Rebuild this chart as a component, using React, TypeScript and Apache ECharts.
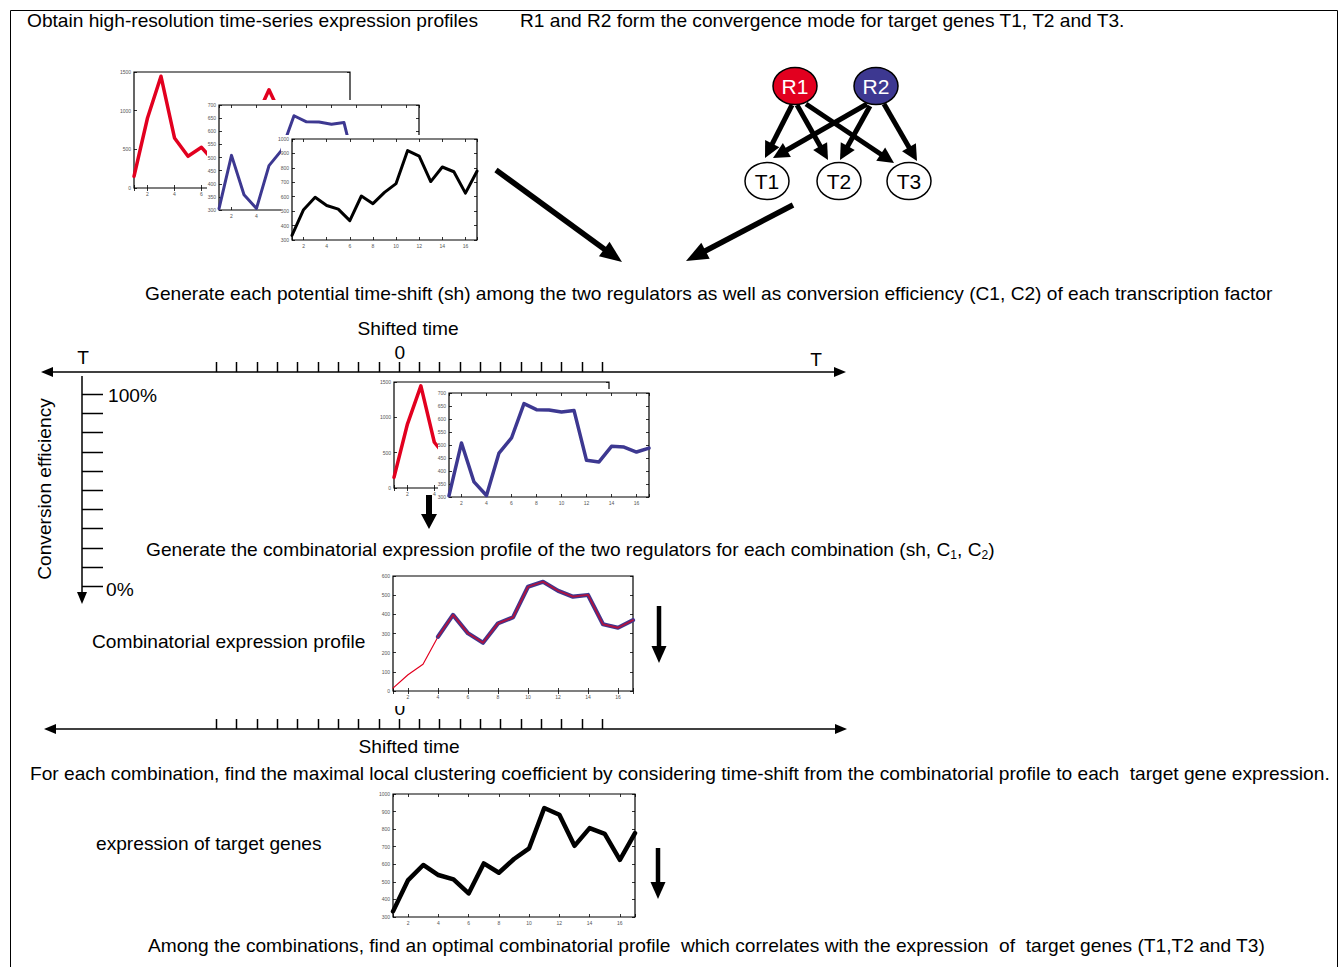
import React, { useEffect, useRef } from "react";
import * as echarts from "echarts";

// ---------- data ----------
const TIME_POINTS = [1, 2, 3, 4, 5, 6, 7, 8, 9, 10, 11, 12, 13, 14, 15, 16, 17];
const R1_EXPRESSION = [150, 905, 1445, 647, 410, 526, 330, 600, 720, 890, 1270, 900, 760, 660, 600, 620, 580];
const R2_EXPRESSION = [305, 508, 358, 306, 469, 527, 659, 636, 635, 627, 633, 441, 435, 495, 492, 473, 488];
const TARGET_EXPRESSION = [332, 510, 596, 539, 514, 434, 605, 552, 630, 691, 920, 882, 705, 806, 773, 625, 777];
const COMBINED_EXPRESSION = [15, 85, 140, 283, 397, 301, 252, 353, 384, 544, 570, 523, 492, 501, 348, 330, 370];
const COMBINED_FROM = 4; // time point from which both regulators contribute
const SHIFT_TICKS = [-9, -8, -7, -6, -5, -4, -3, -2, -1, 0, 1, 2, 3, 4, 5, 6, 7, 8, 9, 10];
const EFFICIENCY_TICKS = [100, 90, 80, 70, 60, 50, 40, 30, 20, 10, 0];

const RED = "#e2001f";
const BLUE = "#3d3891";
const FONT = "'Liberation Sans', Arial, Helvetica, sans-serif";
const FS = 19.15;

type Panel = {
  left: number; top: number; width: number; height: number;
  min: number; max: number; interval: number; z: number; lastXLabel: number;
};

const PANELS: Panel[] = [
  { left: 134, top: 72, width: 216, height: 116, min: 0, max: 1500, interval: 500, z: 1, lastXLabel: 6 },    // 0 R1 top
  { left: 219, top: 105, width: 200, height: 105, min: 300, max: 700, interval: 50, z: 4, lastXLabel: 4 },   // 1 R2 top
  { left: 292, top: 139, width: 185, height: 101, min: 300, max: 1000, interval: 100, z: 7, lastXLabel: 16 }, // 2 target top
  { left: 394, top: 382, width: 215, height: 106, min: 0, max: 1500, interval: 500, z: 1, lastXLabel: 4 },   // 3 R1 mid
  { left: 449, top: 393, width: 200, height: 104, min: 300, max: 700, interval: 50, z: 4, lastXLabel: 16 },  // 4 R2 mid
  { left: 393, top: 576, width: 240, height: 115, min: 0, max: 600, interval: 100, z: 1, lastXLabel: 16 },   // 5 combined
  { left: 393, top: 794, width: 242, height: 123, min: 300, max: 1000, interval: 100, z: 1, lastXLabel: 16 }, // 6 target bottom
];

function pts(vals: (number | null)[]) {
  return TIME_POINTS.map((t, i) => [t, vals[i]]);
}

function arrow(x1: number, y1: number, x2: number, y2: number, w: number, hl: number, hw: number, z = 20): any[] {
  const dx = x2 - x1, dy = y2 - y1;
  const L = Math.hypot(dx, dy);
  const ux = dx / L, uy = dy / L;
  const bx = x2 - ux * hl, by = y2 - uy * hl;
  const px = -uy, py = ux;
  return [
    { type: "line", z, silent: true, shape: { x1, y1, x2: bx + ux * 2, y2: by + uy * 2 }, style: { stroke: "#000", lineWidth: w } },
    {
      type: "polygon", z, silent: true,
      shape: { points: [[x2, y2], [bx + (px * hw) / 2, by + (py * hw) / 2], [bx - (px * hw) / 2, by - (py * hw) / 2]] },
      style: { fill: "#000" },
    },
  ];
}

function txt(text: string, x: number, y: number, size = FS, align = "left", extra: any = {}, fill = "#000"): any {
  return {
    type: "text", x, y, z: 20, silent: true, ...extra,
    style: {
      text, fontSize: size, fontFamily: FONT, fill,
      align, verticalAlign: "middle", textAlign: align, textVerticalAlign: "middle",
    },
  };
}

export default function App() {
  const ref = useRef<HTMLDivElement>(null);

  useEffect(() => {
    if (!ref.current) return;
    const chart = echarts.init(ref.current, undefined, { renderer: "svg" });

    const grids: any[] = [];
    const xAxes: any[] = [];
    const yAxes: any[] = [];
    PANELS.forEach((p, gi) => {
      grids.push({
        left: p.left, top: p.top, width: p.width, height: p.height, z: p.z,
        show: true, backgroundColor: "#fff", borderColor: "#000", borderWidth: 1.2,
        containLabel: false,
      });
      const tick = { show: true, inside: true, length: 3, lineStyle: { color: "#000", width: 0.8 } };
      const label = { fontSize: 5, color: "#555", margin: 3, fontFamily: FONT };
      const xBase = {
        type: "value", gridIndex: gi, min: 1, max: 17, splitNumber: 8, z: p.z,
        axisLine: { show: false }, splitLine: { show: false }, axisTick: tick,
      };
      xAxes.push({
        ...xBase, position: "bottom",
        axisLabel: { ...label, formatter: (v: number) => (v % 2 === 0 && v <= p.lastXLabel ? String(v) : "") },
      });
      xAxes.push({ ...xBase, position: "top", axisLabel: { show: false } });
      const yBase = {
        type: "value", gridIndex: gi, min: p.min, max: p.max, interval: p.interval, z: p.z,
        axisLine: { show: false }, splitLine: { show: false }, axisTick: tick,
      };
      yAxes.push({ ...yBase, position: "left", axisLabel: { ...label, formatter: (v: number) => String(v) } });
      yAxes.push({ ...yBase, position: "right", axisLabel: { show: false } });
    });

    const line = (gi: number, data: any[], color: string, width: number, zAdd = 1) => ({
      type: "line", xAxisIndex: gi * 2, yAxisIndex: gi * 2, data, showSymbol: false, symbol: "none",
      silent: true, z: PANELS[gi].z + zAdd, connectNulls: false,
      lineStyle: { color, width, cap: "round", join: "round" },
    });

    const comboBefore = COMBINED_EXPRESSION.map((v, i) => (TIME_POINTS[i] <= COMBINED_FROM ? v : null));
    const comboAfter = COMBINED_EXPRESSION.map((v, i) => (TIME_POINTS[i] >= COMBINED_FROM ? v : null));

    const series = [
      line(0, pts(R1_EXPRESSION), RED, 3.5),
      line(1, pts(R2_EXPRESSION), BLUE, 3),
      line(2, pts(TARGET_EXPRESSION), "#000", 3),
      line(3, pts(R1_EXPRESSION), RED, 3.5),
      line(4, pts(R2_EXPRESSION), BLUE, 3.5),
      line(5, pts(comboBefore), RED, 1.2),
      line(5, pts(comboAfter), BLUE, 4.2),
      line(5, pts(comboAfter), "#b0123f", 1.8, 2),
      line(6, pts(TARGET_EXPRESSION), "#000", 4.5),
    ];

    const g: any[] = [];
    // outer frame
    g.push({ type: "rect", z: 0, silent: true, shape: { x: 10.5, y: 10.5, width: 1327, height: 980 }, style: { fill: "none", stroke: "#000", lineWidth: 1 } });
    // white backdrops for overlapping panels (cover label margins)
    g.push({ type: "rect", z: 3, silent: true, shape: { x: 207, y: 100, width: 215, height: 119 }, style: { fill: "#fff" } });
    g.push({ type: "rect", z: 6, silent: true, shape: { x: 281, y: 135, width: 199, height: 113 }, style: { fill: "#fff" } });
    g.push({ type: "rect", z: 3, silent: true, shape: { x: 438, y: 389, width: 213, height: 114 }, style: { fill: "#fff" } });

    // titles and captions
    g.push(txt("Obtain high-resolution time-series expression profiles", 27, 20));
    g.push(txt("R1 and R2 form the convergence mode for target genes T1, T2 and T3.", 520, 20));
    g.push(txt("Generate each potential time-shift (sh) among the two regulators as well as conversion efficiency (C1, C2) of each transcription factor", 145, 293));
    g.push(txt("Shifted time", 408, 328, FS, "center"));
    g.push({
      type: "text", x: 146, y: 549, z: 20, silent: true,
      style: {
        text: "{m|Generate the combinatorial expression profile of the two regulators for each combination (sh, C}{s|1}{m|, C}{s|2}{m|)}",
        fill: "#000", align: "left", verticalAlign: "middle", textAlign: "left", textVerticalAlign: "middle",
        rich: {
          m: { fontSize: FS, fontFamily: FONT, fill: "#000", color: "#000" },
          s: { fontSize: 12, fontFamily: FONT, fill: "#000", color: "#000", padding: [11, 0, 0, 0] },
        },
      },
    });
    g.push(txt("Combinatorial expression profile", 92, 641));
    g.push(txt("For each combination, find the maximal local clustering coefficient by considering time-shift from the combinatorial profile to each  target gene expression.", 30, 773));
    g.push(txt("expression of target genes", 96, 843));
    g.push(txt("Among the combinations, find an optimal combinatorial profile  which correlates with the expression  of  target genes (T1,T2 and T3)", 148, 945));

    // shifted-time axes
    const shiftX = (s: number) => 216 + (s - SHIFT_TICKS[0]) * (386 / (SHIFT_TICKS.length - 1));
    [372, 729].forEach((y, k) => {
      const lx = k === 0 ? 41 : 44;
      const rx = k === 0 ? 846 : 847;
      g.push({ type: "line", z: 20, silent: true, shape: { x1: lx + 8, y1: y, x2: rx - 8, y2: y }, style: { stroke: "#000", lineWidth: 1.5 } });
      g.push({ type: "polygon", z: 20, silent: true, shape: { points: [[lx, y], [lx + 12, y - 5], [lx + 12, y + 5]] }, style: { fill: "#000" } });
      g.push({ type: "polygon", z: 20, silent: true, shape: { points: [[rx, y], [rx - 12, y - 5], [rx - 12, y + 5]] }, style: { fill: "#000" } });
      SHIFT_TICKS.forEach((s) => {
        const x = Math.round(shiftX(s)) + 0.5;
        g.push({ type: "line", z: 20, silent: true, shape: { x1: x, y1: y - 10, x2: x, y2: y }, style: { stroke: "#000", lineWidth: 1.5 } });
      });
    });
    g.push(txt("T", 83, 357, FS, "center"));
    g.push(txt("T", 816, 359, FS, "center"));
    g.push(txt("0", shiftX(0) + 1, 352, FS, "center"));
    // bottom "0" is partly hidden behind the combined-profile panel
    g.push({ ...txt("0", shiftX(0) + 1, 708, FS, "center"), z: 0.2 });
    g.push({ type: "rect", z: 0.4, silent: true, shape: { x: 390, y: 694, width: 20, height: 12 }, style: { fill: "#fff" } });
    g.push(txt("Shifted time", 409, 746, FS, "center"));

    // conversion efficiency axis
    g.push({ type: "line", z: 20, silent: true, shape: { x1: 82, y1: 376, x2: 82, y2: 593 }, style: { stroke: "#000", lineWidth: 1.5 } });
    g.push({ type: "polygon", z: 20, silent: true, shape: { points: [[82, 604], [77, 592], [87, 592]] }, style: { fill: "#000" } });
    const effY = (e: number) => 394 + ((100 - e) / 100) * 192;
    EFFICIENCY_TICKS.forEach((e) => {
      const y = Math.round(effY(e)) + 0.5;
      g.push({ type: "line", z: 20, silent: true, shape: { x1: 82, y1: y, x2: 103, y2: y }, style: { stroke: "#000", lineWidth: 1.5 } });
    });
    g.push(txt("100%", 108, 395));
    g.push(txt("0%", 106, 589));
    g.push(txt("Conversion efficiency", 44, 489, FS, "center", { rotation: Math.PI / 2 }));

    // regulatory network
    const nodes = [
      { name: "R1", x: 795, y: 86, fill: RED, color: "#fff" },
      { name: "R2", x: 876, y: 86, fill: BLUE, color: "#fff" },
      { name: "T1", x: 767, y: 181, fill: "#fff", color: "#000" },
      { name: "T2", x: 839, y: 181, fill: "#fff", color: "#000" },
      { name: "T3", x: 909, y: 181, fill: "#fff", color: "#000" },
    ];
    const edges: [number, number, number, number][] = [
      [792, 105, 765, 158], [797, 105, 828, 160], [806, 104, 894, 163],
      [867, 104, 773, 158], [870, 106, 840, 160], [884, 104, 917, 161],
    ];
    edges.forEach(([a, b, c, d]) => g.push(...arrow(a, b, c, d, 5, 16, 16, 20)));
    nodes.forEach((n) => {
      g.push({ type: "ellipse", z: 22, silent: true, shape: { cx: n.x, cy: n.y, rx: 22, ry: 18.5 }, style: { fill: n.fill, stroke: "#000", lineWidth: 1.5 } });
      g.push({ ...txt(n.name, n.x, n.y, 21, "center", {}, n.color), z: 23 });
    });

    // flow arrows
    g.push(...arrow(496, 170, 622, 262, 5.5, 22, 18));
    g.push(...arrow(793, 205, 686, 261, 5.5, 22, 18));
    g.push(...arrow(429, 495, 429, 529, 6, 15, 16));
    g.push(...arrow(659, 606, 659, 663, 4.5, 17, 15));
    g.push(...arrow(658, 848, 658, 899, 4.5, 17, 15));

    chart.setOption({
      animation: false,
      backgroundColor: "#fff",
      grid: grids,
      xAxis: xAxes,
      yAxis: yAxes,
      series,
      graphic: { elements: g },
    });

    return () => chart.dispose();
  }, []);

  return <div ref={ref} style={{ position: "absolute", left: 0, top: 0, width: 1340, height: 967, background: "#fff" }} />;
}
